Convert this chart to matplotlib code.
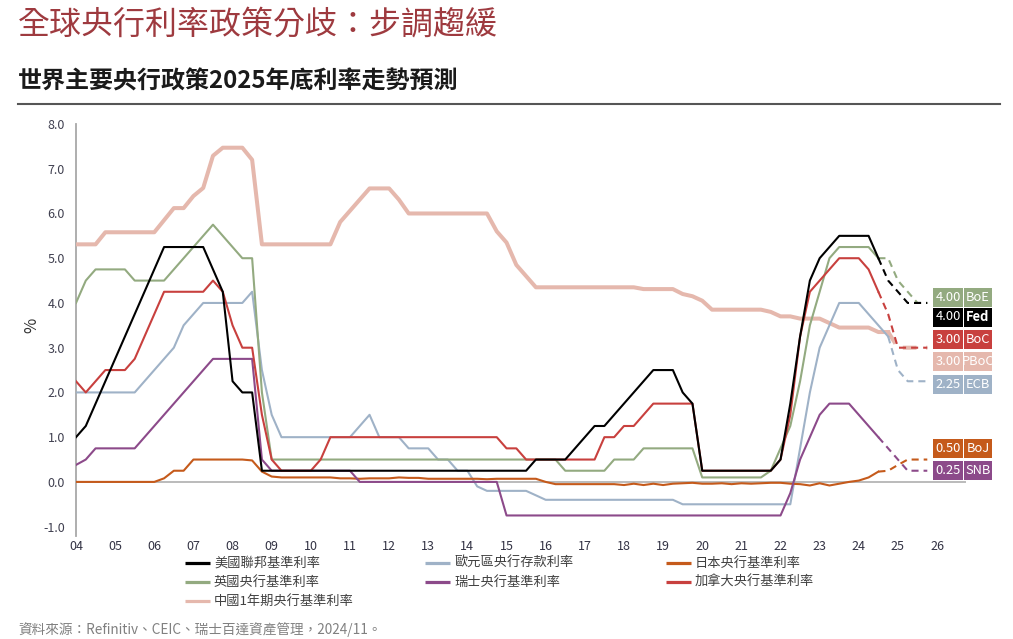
import numpy as np
import matplotlib
matplotlib.use('Agg')
import matplotlib.pyplot as plt
from matplotlib.patches import Rectangle

plt.rcParams['font.family'] = ['Noto Sans CJK TC', 'DejaVu Sans']

# quarterly points, 2004Q1 .. 2025Q4 (last ones are forecasts, drawn dashed)
quarters = 2004 + np.arange(88) * 0.25

fed = [1.00, 1.25, 1.75, 2.25,  2.75, 3.25, 3.75, 4.25,  4.75, 5.25, 5.25, 5.25,
       5.25, 5.25, 4.75, 4.25,  2.25, 2.00, 2.00, 0.25,  0.25, 0.25, 0.25, 0.25,
       0.25, 0.25, 0.25, 0.25,  0.25, 0.25, 0.25, 0.25,  0.25, 0.25, 0.25, 0.25,
       0.25, 0.25, 0.25, 0.25,  0.25, 0.25, 0.25, 0.25,  0.25, 0.25, 0.25, 0.50,
       0.50, 0.50, 0.50, 0.75,  1.00, 1.25, 1.25, 1.50,  1.75, 2.00, 2.25, 2.50,
       2.50, 2.50, 2.00, 1.75,  0.25, 0.25, 0.25, 0.25,  0.25, 0.25, 0.25, 0.25,
       0.50, 1.75, 3.25, 4.50,  5.00, 5.25, 5.50, 5.50,  5.50, 5.50, 5.00, 4.50,
       4.25, 4.00, 4.00, 4.00]

ecb = [2.00, 2.00, 2.00, 2.00,  2.00, 2.00, 2.00, 2.25,  2.50, 2.75, 3.00, 3.50,
       3.75, 4.00, 4.00, 4.00,  4.00, 4.00, 4.25, 2.50,  1.50, 1.00, 1.00, 1.00,
       1.00, 1.00, 1.00, 1.00,  1.00, 1.25, 1.50, 1.00,  1.00, 1.00, 0.75, 0.75,
       0.75, 0.50, 0.50, 0.25,  0.25, -0.10, -0.20, -0.20,  -0.20, -0.20, -0.20, -0.30,
       -0.40, -0.40, -0.40, -0.40,  -0.40, -0.40, -0.40, -0.40,  -0.40, -0.40, -0.40, -0.40,
       -0.40, -0.40, -0.50, -0.50,  -0.50, -0.50, -0.50, -0.50,  -0.50, -0.50, -0.50, -0.50,
       -0.50, -0.50, 0.75, 2.00,  3.00, 3.50, 4.00, 4.00,  4.00, 3.75, 3.50, 3.25,
       2.50, 2.25, 2.25, 2.25]

boj = [0.00, 0.00, 0.00, 0.00,  0.00, 0.00, 0.00, 0.00,  0.00, 0.08, 0.25, 0.25,
       0.50, 0.50, 0.50, 0.50,  0.50, 0.50, 0.48, 0.23,  0.12, 0.10, 0.10, 0.10,
       0.10, 0.10, 0.10, 0.08,  0.08, 0.07, 0.08, 0.08,  0.08, 0.10, 0.09, 0.09,
       0.07, 0.07, 0.07, 0.07,  0.07, 0.07, 0.06, 0.07,  0.07, 0.07, 0.07, 0.07,
       0.00, -0.05, -0.05, -0.05,  -0.05, -0.05, -0.05, -0.05,  -0.07, -0.04, -0.07, -0.04,
       -0.07, -0.04, -0.03, -0.02,  -0.04, -0.04, -0.03, -0.05,  -0.03, -0.04, -0.03, -0.02,
       -0.02, -0.04, -0.05, -0.08,  -0.03, -0.08, -0.04, 0.00,  0.03, 0.10, 0.23, 0.25,
       0.38, 0.50, 0.50, 0.50]

boe = [4.00, 4.50, 4.75, 4.75,  4.75, 4.75, 4.50, 4.50,  4.50, 4.50, 4.75, 5.00,
       5.25, 5.50, 5.75, 5.50,  5.25, 5.00, 5.00, 2.00,  0.50, 0.50, 0.50, 0.50,
       0.50, 0.50, 0.50, 0.50,  0.50, 0.50, 0.50, 0.50,  0.50, 0.50, 0.50, 0.50,
       0.50, 0.50, 0.50, 0.50,  0.50, 0.50, 0.50, 0.50,  0.50, 0.50, 0.50, 0.50,
       0.50, 0.50, 0.25, 0.25,  0.25, 0.25, 0.25, 0.50,  0.50, 0.50, 0.75, 0.75,
       0.75, 0.75, 0.75, 0.75,  0.10, 0.10, 0.10, 0.10,  0.10, 0.10, 0.10, 0.25,
       0.75, 1.25, 2.25, 3.50,  4.25, 5.00, 5.25, 5.25,  5.25, 5.25, 5.00, 5.00,
       4.50, 4.25, 4.00, 4.00]

snb = [0.38, 0.50, 0.75, 0.75,  0.75, 0.75, 0.75, 1.00,  1.25, 1.50, 1.75, 2.00,
       2.25, 2.50, 2.75, 2.75,  2.75, 2.75, 2.75, 0.50,  0.25, 0.25, 0.25, 0.25,
       0.25, 0.25, 0.25, 0.25,  0.25, 0.00, 0.00, 0.00,  0.00, 0.00, 0.00, 0.00,
       0.00, 0.00, 0.00, 0.00,  0.00, 0.00, 0.00, 0.00,  -0.75, -0.75, -0.75, -0.75,
       -0.75, -0.75, -0.75, -0.75,  -0.75, -0.75, -0.75, -0.75,  -0.75, -0.75, -0.75, -0.75,
       -0.75, -0.75, -0.75, -0.75,  -0.75, -0.75, -0.75, -0.75,  -0.75, -0.75, -0.75, -0.75,
       -0.75, -0.25, 0.50, 1.00,  1.50, 1.75, 1.75, 1.75,  1.50, 1.25, 1.00, 0.75,
       0.50, 0.25, 0.25, 0.25]

boc = [2.25, 2.00, 2.25, 2.50,  2.50, 2.50, 2.75, 3.25,  3.75, 4.25, 4.25, 4.25,
       4.25, 4.25, 4.50, 4.25,  3.50, 3.00, 3.00, 1.50,  0.50, 0.25, 0.25, 0.25,
       0.25, 0.50, 1.00, 1.00,  1.00, 1.00, 1.00, 1.00,  1.00, 1.00, 1.00, 1.00,
       1.00, 1.00, 1.00, 1.00,  1.00, 1.00, 1.00, 1.00,  0.75, 0.75, 0.50, 0.50,
       0.50, 0.50, 0.50, 0.50,  0.50, 0.50, 1.00, 1.00,  1.25, 1.25, 1.50, 1.75,
       1.75, 1.75, 1.75, 1.75,  0.25, 0.25, 0.25, 0.25,  0.25, 0.25, 0.25, 0.25,
       0.50, 1.50, 3.25, 4.25,  4.50, 4.75, 5.00, 5.00,  5.00, 4.75, 4.25, 3.75,
       3.00, 3.00, 3.00, 3.00]

pboc = [5.31, 5.31, 5.31, 5.58,  5.58, 5.58, 5.58, 5.58,  5.58, 5.85, 6.12, 6.12,
        6.39, 6.57, 7.29, 7.47,  7.47, 7.47, 7.20, 5.31,  5.31, 5.31, 5.31, 5.31,
        5.31, 5.31, 5.31, 5.81,  6.06, 6.31, 6.56, 6.56,  6.56, 6.31, 6.00, 6.00,
        6.00, 6.00, 6.00, 6.00,  6.00, 6.00, 6.00, 5.60,  5.35, 4.85, 4.60, 4.35,
        4.35, 4.35, 4.35, 4.35,  4.35, 4.35, 4.35, 4.35,  4.35, 4.35, 4.31, 4.31,
        4.31, 4.31, 4.20, 4.15,  4.05, 3.85, 3.85, 3.85,  3.85, 3.85, 3.85, 3.80,
        3.70, 3.70, 3.65, 3.65,  3.65, 3.55, 3.45, 3.45,  3.45, 3.45, 3.35, 3.35,
        3.00, 3.00, 3.00, 3.00]

# name, short tag, values, colour, line width, index of last actual point
series = [
    ('中國1年期央行基準利率', 'PBoC', pboc, '#e5b8ad', 2.9, 83),
    ('歐元區央行存款利率', 'ECB', ecb, '#9fb2c7', 1.5, 83),
    ('日本央行基準利率', 'BoJ', boj, '#c55a1b', 1.5, 82),
    ('英國央行基準利率', 'BoE', boe, '#93aa80', 1.5, 82),
    ('瑞士央行基準利率', 'SNB', snb, '#8c4a8a', 1.5, 82),
    ('加拿大央行基準利率', 'BoC', boc, '#c8403e', 1.5, 82),
    ('美國聯邦基準利率', 'Fed', fed, '#000000', 1.5, 82),
]
by_tag = {s[1]: s for s in series}

W, H = 1013, 639
fig = plt.figure(figsize=(W / 100, H / 100), dpi=100)

# main chart, placed in pixel terms
x0_px, x1_px, ytop_px, ybot_px = 76, 966, 124, 535.6
px_per_year = 39.14
ax = fig.add_axes([x0_px / W, (H - ybot_px) / H, (x1_px - x0_px) / W, (ybot_px - ytop_px) / H])
ax.set_xlim(2004, 2004 + (x1_px - x0_px) / px_per_year)
ax.set_ylim(-1.2, 8.0)

for name, tag, vals, col, lw, k in series:
    v = np.array(vals)
    ax.plot(quarters[:k + 1], v[:k + 1], color=col, lw=lw, solid_joinstyle='round', zorder=3)
    ax.plot(quarters[k:], v[k:], color=col, lw=lw, ls=(0, (3.4, 2.4)), zorder=3)

ax.axhline(0, color='#a8a8a8', lw=1.1, zorder=1)
for s in ['top', 'right', 'bottom']:
    ax.spines[s].set_visible(False)
ax.spines['left'].set_color('#a8a8a8')
ax.spines['left'].set_linewidth(1.3)

ax.set_xticks(range(2004, 2027))
ax.set_xticklabels([f"{y % 100:02d}" for y in range(2004, 2027)])
ax.set_yticks(np.arange(-1, 8.5, 1))
ax.set_yticklabels([f"{v:.1f}" for v in np.arange(-1, 8.5, 1)])
ax.tick_params(axis='x', length=0, pad=3, labelsize=9, labelcolor='#333344')
ax.tick_params(axis='y', length=0, pad=8, labelsize=9, labelcolor='#404050')
ax.patch.set_visible(False)

# overlay in pixel coordinates for titles, legend and end labels
ov = fig.add_axes([0, 0, 1, 1], zorder=5)
ov.set_xlim(0, W)
ov.set_ylim(H, 0)
ov.axis('off')

ov.text(18, 24, '全球央行利率政策分歧：步調趨緩', fontsize=23, color='#9e3a3f', va='center')
ov.text(18, 82, '世界主要央行政策2025年底利率走勢預測', fontsize=17.3, fontweight='bold',
        color='#1a1a1a', va='center')
ov.plot([18, 1000], [104, 104], color='#555555', lw=1.5)
ov.text(32, 325, '%', fontsize=12, rotation=90, va='center', ha='center', color='#333333')
ov.text(18, 630, '資料來源：Refinitiv、CEIC、瑞士百達資產管理，2024/11。', fontsize=9.8,
        color='#808080', va='center')

# legend laid out as in the reference (3 columns)
legend_rows = [['Fed', 'ECB', 'BoJ'], ['BoE', 'SNB', 'BoC'], ['PBoC']]
col_x = [185, 425, 666]
row_y = [563, 582, 601]
for r, tags in enumerate(legend_rows):
    for c, tag in enumerate(tags):
        name, _, _, col, _, _ = by_tag[tag]
        ov.plot([col_x[c], col_x[c] + 25], [row_y[r], row_y[r]], color=col, lw=2.3,
                solid_capstyle='butt')
        ov.text(col_x[c] + 29, row_y[r], name, fontsize=9.5, color='#404040', va='center')

# end-of-2025 value tags
tag_y = {'BoE': 297.5, 'Fed': 317, 'BoC': 339.5, 'PBoC': 361.5, 'ECB': 384,
         'BoJ': 448.5, 'SNB': 470.5}
for tag, yc in tag_y.items():
    name, _, vals, col, _, _ = by_tag[tag]
    ov.add_patch(Rectangle((933, yc - 9.5), 30, 19, color=col, lw=0))
    ov.add_patch(Rectangle((964, yc - 9.5), 28, 19, color=col, lw=0))
    ov.text(948, yc, f"{vals[-1]:.2f}", fontsize=9.3, color='white', ha='center', va='center')
    ov.text(978, yc, tag, fontsize=9.3, color='white', ha='center', va='center',
            fontweight='bold' if tag == 'Fed' else 'normal', clip_on=True)

fig.savefig('out.png', dpi=100)
